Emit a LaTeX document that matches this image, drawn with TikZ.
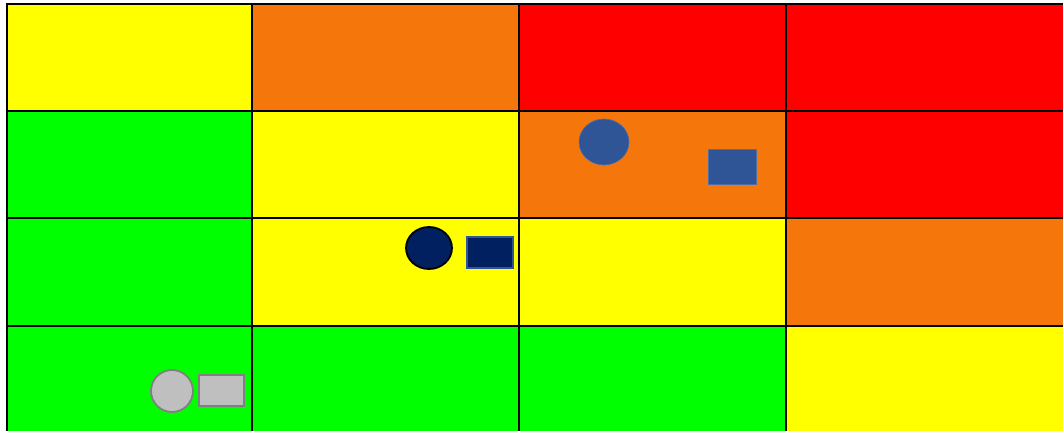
\documentclass[tikz,border=0pt]{standalone}
\usepackage{xcolor}
\usetikzlibrary{shapes.geometric}

\definecolor{lowc}{HTML}{00FF00}
\definecolor{midc}{HTML}{FFFF00}
\definecolor{highc}{HTML}{F5770B}
\definecolor{topc}{HTML}{FF0000}
\definecolor{blueA}{HTML}{2F5597}
\definecolor{navyA}{HTML}{002060}
\definecolor{greyA}{HTML}{BFBFBF}

\begin{document}
\begin{tikzpicture}[
  x=1pt, y=-1pt,
  cell/.style={draw=black, line width=1.6pt},
  marker/.style={inner sep=0pt, outer sep=0pt},
  blob/.style={marker, ellipse},
  tag/.style={marker, rectangle},
]
\useasboundingbox (0,0) rectangle (1063,431);
\def\ca{7}\def\cb{252}\def\cc{519}\def\cd{786}\def\ce{1080}
\def\ra{4}\def\rb{111}\def\rc{218}\def\rd{326}\def\re{445}
% risk cells, row by row
\foreach \xa/\xb/\ya/\yb/\c in {
  \ca/\cb/\ra/\rb/midc, \cb/\cc/\ra/\rb/highc, \cc/\cd/\ra/\rb/topc, \cd/\ce/\ra/\rb/topc,
  \ca/\cb/\rb/\rc/lowc, \cb/\cc/\rb/\rc/midc, \cc/\cd/\rb/\rc/highc, \cd/\ce/\rb/\rc/topc,
  \ca/\cb/\rc/\rd/lowc, \cb/\cc/\rc/\rd/midc, \cc/\cd/\rc/\rd/midc, \cd/\ce/\rc/\rd/highc,
  \ca/\cb/\rd/\re/lowc, \cb/\cc/\rd/\re/lowc, \cc/\cd/\rd/\re/lowc, \cd/\ce/\rd/\re/midc}
  \filldraw[cell, fill=\c] (\xa,\ya) rectangle (\xb,\yb);
% markers
\node[blob, fill=blueA, draw=blueA!85!white, line width=0.6pt, minimum width=50, minimum height=46] (curE) at (604,142) {};
\node[tag, fill=blueA, draw=blueA!85!white, line width=0.6pt, minimum width=48, minimum height=35] (curR) at (732,166.5) {};
\node[blob, fill=navyA, draw=black, line width=1.8pt, minimum width=46, minimum height=42] (tgtE) at (429,248) {};
\node[tag, fill=navyA, draw=blueA, line width=1.8pt, minimum width=46, minimum height=31] (tgtR) at (490,252.5) {};
\node[blob, fill=greyA, draw=black!50, line width=1.8pt, minimum width=42, minimum height=42] (resE) at (172,391) {};
\node[tag, fill=greyA, draw=black!50, line width=1.8pt, minimum width=45, minimum height=31] (resR) at (221.5,390.5) {};
\end{tikzpicture}
\end{document}
